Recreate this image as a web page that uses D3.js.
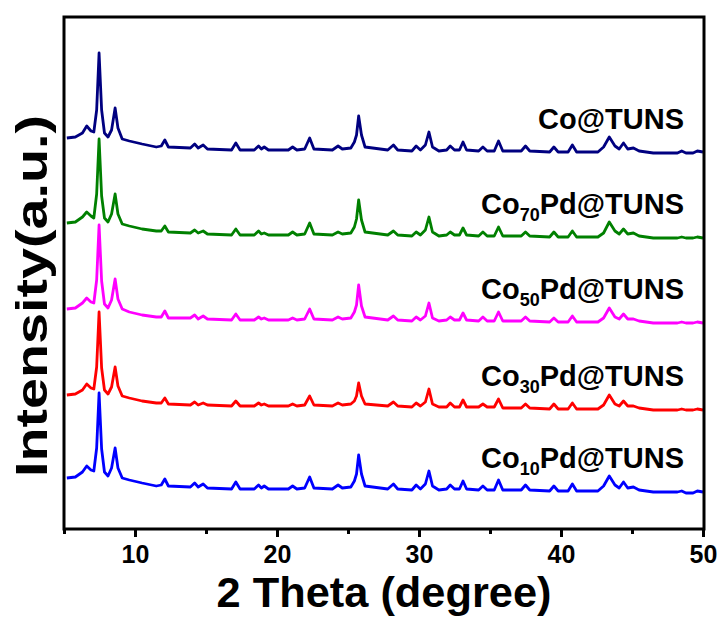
<!DOCTYPE html>
<html><head><meta charset="utf-8">
<script src="https://cdn.jsdelivr.net/npm/d3@7"></script>
<style>body{margin:0;background:#fff}</style>
</head><body>
<svg id="chart" width="724" height="617"></svg>
<script>
// 2θ positions (degree)
const twoTheta = [5.2,5.8,6.3,6.6,6.9,7.1,7.3,7.47,7.65,7.85,
 8.1,8.35,8.6,8.8,9.1,9.6,10.5,11.5,11.85,12.1,
 12.35,13.9,14.2,14.45,14.8,15.1,16.8,17.1,17.4,18.4,
 18.7,18.9,19.1,19.4,20.8,21.1,21.4,21.95,22.3,22.6,
 23.9,24.3,24.6,25.2,25.45,25.6,25.75,25.95,26.2,27.8,
 28.2,28.5,29.5,29.8,30.1,30.45,30.7,30.95,31.4,31.95,
 32.2,32.5,32.85,33.1,33.35,34.2,34.5,34.8,35.3,35.6,
 35.9,37.2,37.5,37.8,39.2,39.5,39.8,40.5,40.8,41.1,
 42.6,43.0,43.4,43.8,44.1,44.4,44.7,45.1,45.5,46.5,
 48.2,48.5,48.8,49.3,49.6,50.0];

// intensities (a.u.) of each sample
const coTUNS = [22,23,27,34,29,28,50,107,50,27,
 23,30,52,32,21,19,16,13,14,20,
 13,12,16,12,15,11,10,17,10,10,
 14,11,13,10,10,13,10,11,22,11,
 10,14,11,12,18,25,44,25,13,10,
 15,10,9,14,10,15,28,13,9,10,
 14,10,10,18,10,9,13,9,9,19,
 9,9,14,9,8,13,8,8,15,8,
 8,13,23,14,11,17,11,12,9,7,
 7,9,7,7,9,8];
const co70Pd = [22,23,28,33,29,27,51,106,49,27,
 23,31,51,31,21,19,16,14,14,19,
 13,12,15,12,14,11,10,16,10,10,
 14,11,12,10,10,13,10,11,22,11,
 10,13,11,12,18,26,45,25,13,10,
 14,10,9,13,10,15,28,13,9,10,
 13,10,10,17,10,9,13,9,9,18,
 9,9,13,9,8,13,8,8,14,8,
 8,12,23,14,11,16,11,12,9,7,
 7,8,7,7,8,7];
const co50Pd = [21,22,27,32,28,27,50,105,49,26,
 22,30,51,31,21,18,15,13,13,19,
 12,12,15,11,14,11,10,16,10,10,
 13,11,12,10,10,12,10,11,21,11,
 10,13,11,12,18,25,45,24,13,10,
 14,10,9,13,10,14,27,12,9,10,
 13,10,10,17,10,9,13,9,9,18,
 9,9,13,9,8,12,8,8,14,8,
 8,12,22,13,11,16,11,11,9,7,
 7,8,7,7,8,7];
const co30Pd = [22,23,27,33,29,28,50,105,49,27,
 23,30,50,31,21,19,16,14,14,19,
 13,12,15,12,14,12,11,16,11,11,
 14,12,13,11,11,13,11,12,21,12,
 11,14,12,13,16,21,34,21,13,11,
 15,11,10,14,11,15,28,13,10,10,
 14,10,10,17,10,10,13,10,10,18,
 9,9,13,9,8,13,8,8,14,8,
 8,12,22,13,11,16,11,11,9,7,
 7,8,7,7,8,7];
const co10Pd = [21,22,27,33,29,28,51,106,50,27,
 23,31,51,31,21,19,16,13,14,20,
 13,12,16,12,15,11,10,17,10,10,
 14,11,13,10,10,13,10,11,22,11,
 10,14,11,12,18,25,44,25,13,10,
 15,10,9,14,10,15,28,13,9,10,
 14,10,10,18,10,9,13,9,9,19,
 9,9,14,9,8,13,8,8,15,8,
 8,13,23,14,11,17,11,12,9,7,
 7,8,6,6,8,7];

// stacking offsets (a.u.)
const offsets = [369, 284, 199, 112, 30];
const labelSub = ["", "70", "50", "30", "10"];
const labelTail = ["@TUNS", "Pd@TUNS", "Pd@TUNS", "Pd@TUNS", "Pd@TUNS"];
const colors = ["#000080", "#008000", "#ff00ff", "#ff0000", "#0000ff"];
const xTicks = [10, 20, 30, 40, 50];
const xMinorTicks = [5, 15, 25, 35, 45];

const seriesList = [coTUNS, co70Pd, co50Pd, co30Pd, co10Pd];

const svg = d3.select("#chart");
const L = 64, R = 704, T = 17, B = 529;
const x = d3.scaleLinear().domain([5, 50]).range([L, 703]);
const y = d3.scaleLinear().domain([0, 512]).range([B, T]);
const FONT = "Liberation Sans, Arial, Helvetica, sans-serif";

const line = d3.line().x(d => x(d[0])).y(d => y(d[1]));

seriesList.forEach((vals, i) => {
  const pts = twoTheta.map((t, k) => [t, vals[k] + offsets[i]]);
  svg.append("path").datum(pts)
    .attr("d", line)
    .attr("fill", "none")
    .attr("stroke", colors[i])
    .attr("stroke-width", 2.8)
    .attr("stroke-linejoin", "round");
});

// labels
seriesList.forEach((vals, i) => {
  const yb = y(offsets[i] + 10) - 21;
  const t = svg.append("text")
    .attr("x", 684).attr("y", yb)
    .attr("text-anchor", "end")
    .attr("font-family", FONT).attr("font-weight", "bold")
    .attr("font-size", 29).attr("fill", "#000");
  t.append("tspan").text("Co");
  if (labelSub[i]) {
    t.append("tspan").attr("dy", 7).attr("font-size", 18).text(labelSub[i]);
    t.append("tspan").attr("dy", -7).text(labelTail[i]);
  } else {
    t.append("tspan").text(labelTail[i]);
  }
});

// frame
svg.append("rect").attr("x", L).attr("y", T)
  .attr("width", R - L).attr("height", B - T)
  .attr("fill", "none").attr("stroke", "#000").attr("stroke-width", 3);

// bottom axis
const ax = svg.append("g").attr("transform", `translate(0,${B})`)
  .call(d3.axisBottom(x).tickValues(xTicks).tickSize(8).tickPadding(8).tickFormat(d3.format("d")));
ax.select(".domain").remove();
ax.selectAll("line").attr("stroke", "#000").attr("stroke-width", 3);
ax.selectAll("text").attr("font-family", FONT).attr("font-weight", "bold")
  .attr("font-size", 25).attr("fill", "#000");

const axm = svg.append("g").attr("transform", `translate(0,${B})`)
  .call(d3.axisBottom(x).tickValues(xMinorTicks).tickSize(5).tickFormat(""));
axm.select(".domain").remove();
axm.selectAll("line").attr("stroke", "#000").attr("stroke-width", 3);

// axis titles
svg.append("text")
  .attr("x", (L + R) / 2).attr("y", 607)
  .attr("text-anchor", "middle")
  .attr("font-family", FONT).attr("font-weight", "bold")
  .attr("font-size", 42)
  .attr("textLength", 335).attr("lengthAdjust", "spacingAndGlyphs")
  .text("2 Theta (degree)");

svg.append("text")
  .attr("transform", `translate(47,296) rotate(-90)`)
  .attr("text-anchor", "middle")
  .attr("font-family", FONT).attr("font-weight", "bold")
  .attr("font-size", 44)
  .attr("textLength", 362).attr("lengthAdjust", "spacingAndGlyphs")
  .text("Intensity(a.u.)");
</script>
</body></html>
